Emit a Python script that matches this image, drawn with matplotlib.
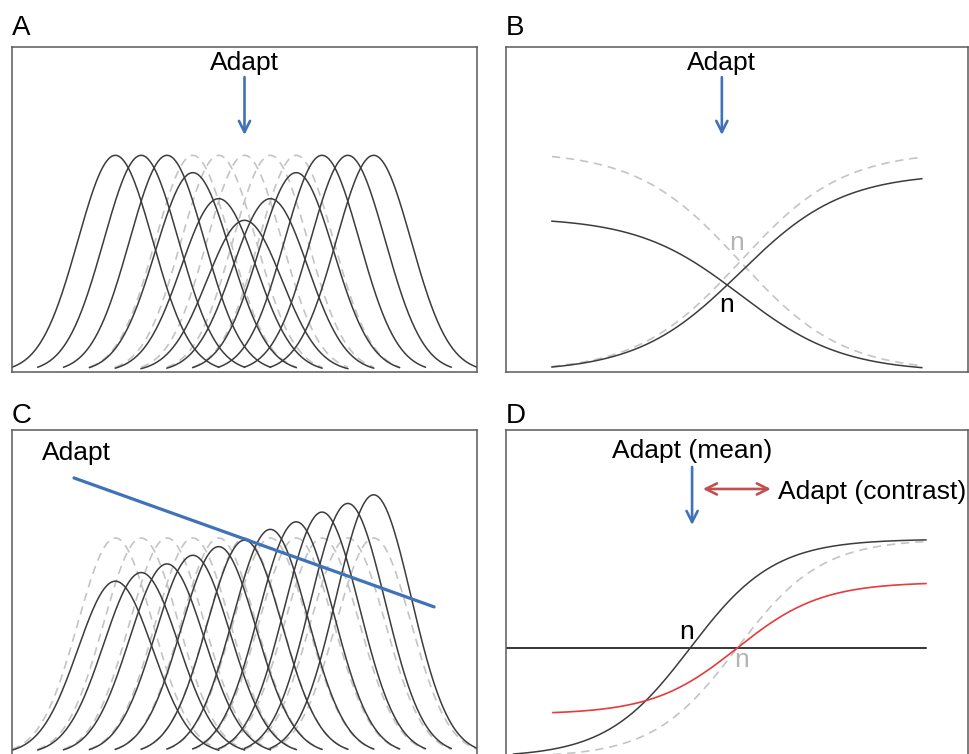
import numpy as np
import matplotlib
matplotlib.use("Agg")
import matplotlib.pyplot as plt

# ---------- Data ----------
# A / C: population of Gaussian tuning curves (preferred stimulus, gain)
CENTERS = [4, 5, 6, 7, 8, 9, 10, 11, 12, 13, 14]
A_GAINS = [1.0, 1.0, 1.0, 0.92, 0.80, 0.70, 0.80, 0.92, 1.0, 1.0, 1.0]
A_SUPPRESSED = [3, 4, 5, 6, 7]          # curves whose original shape is shown dashed
C_GAINS = [0.80, 0.84, 0.88, 0.92, 0.96, 0.99, 1.04, 1.075, 1.12, 1.16, 1.20]
SIGMA = 1.45
HALF_SPAN = 4.0

# B: opponent channels (sigmoids), pre/post adaptation gains
B_CENTER = 9.12
B_SLOPE = 2.0
B_AMP = 1.02
B_RANGE = (1.79, 16.2)
B_GAIN_DEC = 0.70
B_GAIN_INC = 0.90

# D: single channel response, mean and contrast adaptation
D_CENTER_ORIG = 9.0
D_CENTER_MEAN = 7.17
D_SLOPE = 1.64
D_HALF_AMP = 0.505
D_HALF_AMP_CONTRAST = 0.306
D_RANGE = (1.83, 16.36)
D_RANGE_MEAN = (0.3, 16.36)

# C: adaptation state line
C_ADAPT_X = [2.4, 16.34]
C_ADAPT_Y = [1.278, 0.681]

# ---------- Style ----------
DARK = "#3c3c3c"
GRAY = "#c4c4c4"
BLUE = "#3f72b8"
RED_ARROW = "#c0504d"
RED_CURVE = "#e63b3b"
FS = 19
FL = 20

plt.rcParams.update({
    "font.family": ["Liberation Sans", "DejaVu Sans"],
    "font.size": FS,
})

W, H = 969, 754
fig = plt.figure(figsize=(W / 100, H / 100), dpi=100)


def add_box(x0, y0, x1, y1):
    ax = fig.add_axes([x0 / W, 1 - y1 / H, (x1 - x0) / W, (y1 - y0) / H])
    ax.set_xticks([]); ax.set_yticks([])
    for s in ax.spines.values():
        s.set_color("#5a5a5a")
        s.set_linewidth(1.1)
    return ax


def gauss(x, c, g):
    return g * np.exp(-0.5 * ((x - c) / SIGMA) ** 2)


def sig(x, c, w):
    return 1.0 / (1.0 + np.exp(-(x - c) / w))


DASH = (0, (5, 3.5))


def down_arrow(ax, x, y0, y1, color=BLUE):
    ax.annotate("", xy=(x, y1), xytext=(x, y0),
                arrowprops=dict(arrowstyle="->", color=color, lw=1.9,
                                shrinkA=0, shrinkB=0, mutation_scale=20))


# ---------- Panel A ----------
axA = add_box(12, 47, 477, 372)
axA.set_xlim(0, 18); axA.set_ylim(0, 1.5)
for i in A_SUPPRESSED:
    c = CENTERS[i]
    xx = np.linspace(c - HALF_SPAN, c + HALF_SPAN, 200)
    axA.plot(xx, gauss(xx, c, 1.0), color=GRAY, lw=1.2, ls=DASH)
for c, g in zip(CENTERS, A_GAINS):
    xx = np.linspace(c - HALF_SPAN, c + HALF_SPAN, 200)
    axA.plot(xx, gauss(xx, c, g), color=DARK, lw=1.1)
axA.text(9.0, 1.394, "Adapt", ha="center", va="baseline")
down_arrow(axA, 9.0, 1.361, 1.094)

# ---------- Panel B ----------
axB = add_box(506, 47, 968, 372)
axB.set_xlim(0, 18); axB.set_ylim(0, 1.5)
xb = np.linspace(*B_RANGE, 300)
sb = sig(xb, B_CENTER, B_SLOPE)
axB.plot(xb, B_AMP * (1 - sb), color=GRAY, lw=1.2, ls=DASH)
axB.plot(xb, B_AMP * sb, color=GRAY, lw=1.2, ls=DASH)
axB.plot(xb, B_GAIN_DEC * B_AMP * (1 - sb), color=DARK, lw=1.1)
axB.plot(xb, B_GAIN_INC * B_AMP * sb, color=DARK, lw=1.1)
axB.text(8.41, 1.394, "Adapt", ha="center", va="baseline")
down_arrow(axB, 8.41, 1.361, 1.094)
axB.text(9.0, 0.594, "n", ha="center", va="center", color="#b4b4b4")
axB.text(8.61, 0.309, "n", ha="center", va="center", color="black")

# ---------- Panel C ----------
axC = add_box(12, 430, 477, 754)
axC.set_xlim(0, 18); axC.set_ylim(0, 1.5)
axC.spines["bottom"].set_visible(False)
for c in CENTERS:
    xx = np.linspace(c - HALF_SPAN, c + HALF_SPAN, 200)
    axC.plot(xx, gauss(xx, c, 1.0), color=GRAY, lw=1.2, ls=DASH)
for c, g in zip(CENTERS, C_GAINS):
    xx = np.linspace(c - HALF_SPAN, c + HALF_SPAN, 200)
    axC.plot(xx, gauss(xx, c, g), color=DARK, lw=1.1)
axC.plot(C_ADAPT_X, C_ADAPT_Y, color=BLUE, lw=2.3, solid_capstyle="round")
axC.text(1.16, 1.361, "Adapt", ha="left", va="baseline")

# ---------- Panel D ----------
axD = add_box(506, 430, 968, 754)
axD.set_xlim(0, 18); axD.set_ylim(-0.49, 1.01)
axD.spines["bottom"].set_visible(False)
axD.plot([0, D_RANGE[1]], [0, 0], color="black", lw=1.1)
xd = np.linspace(*D_RANGE, 300)
xm = np.linspace(*D_RANGE_MEAN, 300)
axD.plot(xd, D_HALF_AMP * (2 * sig(xd, D_CENTER_ORIG, D_SLOPE) - 1),
         color=GRAY, lw=1.2, ls=DASH)
axD.plot(xm, D_HALF_AMP * (2 * sig(xm, D_CENTER_MEAN, D_SLOPE) - 1),
         color=DARK, lw=1.1)
axD.plot(xd, D_HALF_AMP_CONTRAST * (2 * sig(xd, D_CENTER_ORIG, D_SLOPE) - 1),
         color=RED_CURVE, lw=1.2)
axD.text(7.25, 0.88, "Adapt (mean)", ha="center", va="baseline")
down_arrow(axD, 7.25, 0.839, 0.570)
axD.annotate("", xy=(10.32, 0.737), xytext=(7.67, 0.737),
             arrowprops=dict(arrowstyle="<->", color=RED_ARROW, lw=1.9,
                             shrinkA=0, shrinkB=0, mutation_scale=20))
axD.text(10.6, 0.69, "Adapt (contrast)", ha="left", va="baseline", clip_on=False)
axD.text(7.05, 0.075, "n", ha="center", va="center", color="black")
axD.text(9.19, -0.055, "n", ha="center", va="center", color="#b4b4b4")

# ---------- Panel letters ----------
for lab, px, py in [("A", 12, 35), ("B", 506, 35), ("C", 12, 423), ("D", 506, 423)]:
    fig.text(px / W, 1 - py / H, lab, fontsize=FL, ha="left", va="baseline")

fig.savefig("out.png", dpi=100)
plt.close(fig)
